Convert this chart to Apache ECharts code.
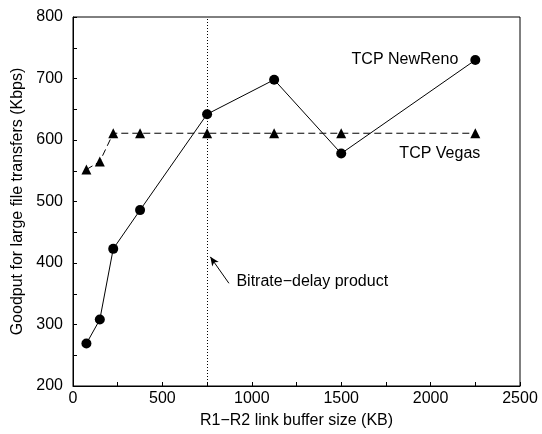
<!DOCTYPE html>
<html>
<head>
<meta charset="utf-8">
<script src="https://cdn.jsdelivr.net/npm/echarts@6/dist/echarts.min.js"></script>
<style>
  html, body { margin: 0; padding: 0; background: #fff; }
  #chart { width: 542px; height: 434px; }
</style>
</head>
<body>
<div id="chart"></div>
<script>
// buffer size (KB) on the x axis
const bufferSizes = [75, 150, 225, 375, 750, 1125, 1500, 2250];
// goodput (Kbps)
const newRenoGoodput = [269, 308, 423, 486, 642, 698, 578, 730];
const vegasGoodput = [552, 565, 611, 611, 611, 611, 611, 611];

const bdpBuffer = 750;
const bdpText = 'Bitrate\u2212delay product';
const arrowFrom = [872, 367];
const arrowTo = [768, 410];
const bdpTextAt = [914, 370];

const font = 'Liberation Sans, Arial, Helvetica, sans-serif';

const chart = echarts.init(document.getElementById('chart'));

const pairs = arr => bufferSizes.map((x, i) => [x, arr[i]]);

chart.setOption({
  animation: false,
  backgroundColor: '#fff',
  textStyle: { fontFamily: font },
  grid: {
    left: 73, right: 22, top: 17, bottom: 46,
    show: true, borderColor: '#000', borderWidth: 1
  },
  xAxis: {
    type: 'value',
    min: 0, max: 2500, interval: 500,
    name: 'R1\u2212R2 link buffer size (KB)',
    nameLocation: 'middle',
    nameGap: 27,
    nameTextStyle: { fontSize: 16, color: '#000', fontFamily: font },
    axisLine: { show: true, lineStyle: { color: '#000', width: 1 } },
    axisTick: { show: true, inside: true, length: 4, lineStyle: { color: '#000' } },
    minorTick: { show: true, splitNumber: 2, length: 4, lineStyle: { color: '#000' } },
    axisLabel: { fontSize: 16, color: '#000', margin: 5, fontFamily: font, formatter: v => String(v) },
    splitLine: { show: false }
  },
  yAxis: {
    type: 'value',
    min: 200, max: 800, interval: 100,
    name: 'Goodput for large file transfers (Kbps)',
    nameLocation: 'middle',
    nameGap: 45,
    nameTextStyle: { fontSize: 16, color: '#000', fontFamily: font },
    axisLine: { show: true, lineStyle: { color: '#000', width: 1 } },
    axisTick: { show: true, inside: true, length: 4, lineStyle: { color: '#000' } },
    minorTick: { show: true, splitNumber: 2, length: 4, lineStyle: { color: '#000' } },
    axisLabel: { fontSize: 16, color: '#000', margin: 10, fontFamily: font, formatter: v => String(v) },
    splitLine: { show: false }
  },
  series: [
    {
      name: 'TCP NewReno',
      type: 'line',
      data: pairs(newRenoGoodput),
      symbol: 'circle',
      symbolSize: 10,
      itemStyle: { color: '#000' },
      lineStyle: { color: '#000', width: 1 },
      label: {
        show: true,
        formatter: p => p.dataIndex === bufferSizes.length - 1 ? 'TCP NewReno' : '',
        position: 'left',
        distance: 12,
        fontSize: 16,
        color: '#000',
        fontFamily: font
      },
      markLine: {
        silent: true,
        symbol: 'none',
        label: { show: false },
        data: [
          { xAxis: bdpBuffer, lineStyle: { color: '#000', width: 1, type: [1, 2] } },
          [
            { coord: arrowFrom, symbol: 'none' },
            { coord: arrowTo, symbol: 'arrow', symbolSize: [6, 9] }
          ]
        ],
        lineStyle: { color: '#000', width: 1, type: 'solid' }
      },
      markPoint: {
        silent: true,
        symbol: 'circle',
        symbolSize: 0,
        data: [{ coord: bdpTextAt }],
        label: {
          show: true,
          formatter: bdpText,
          position: 'right',
          distance: 0,
          fontSize: 16,
          color: '#000',
          fontFamily: font
        }
      }
    },
    {
      name: 'TCP Vegas',
      type: 'line',
      data: pairs(vegasGoodput),
      symbol: 'triangle',
      symbolSize: 10,
      itemStyle: { color: '#000' },
      lineStyle: { color: '#000', width: 1, type: [7, 4] },
      label: {
        show: true,
        formatter: p => p.dataIndex === bufferSizes.length - 1 ? 'TCP Vegas' : '',
        position: 'bottom',
        align: 'right',
        offset: [5, 0],
        distance: 7,
        fontSize: 16,
        color: '#000',
        fontFamily: font
      }
    }
  ]
});
</script>
</body>
</html>
